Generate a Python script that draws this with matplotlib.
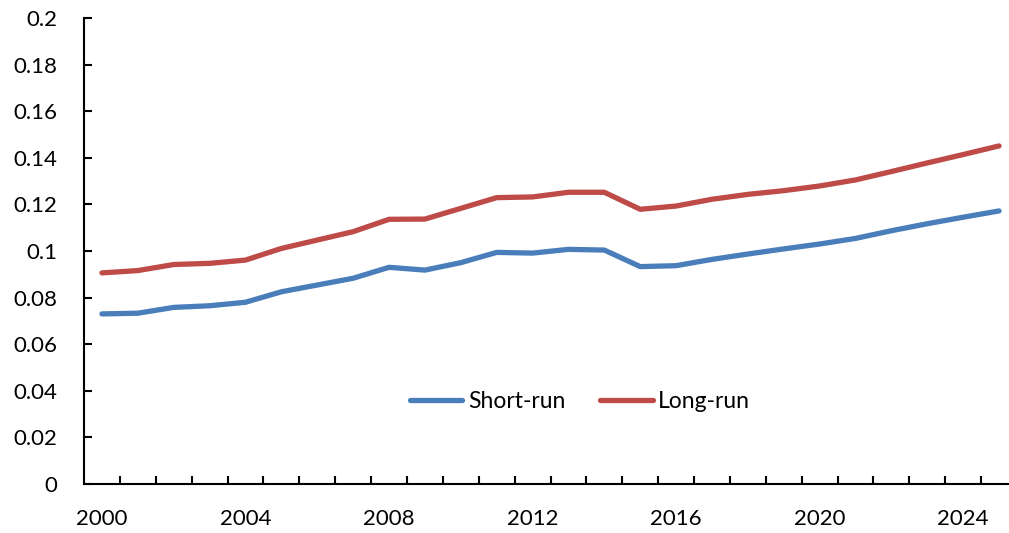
import numpy as np
import matplotlib
matplotlib.use("Agg")
import matplotlib.pyplot as plt

years = list(range(2000, 2026))
short_run = [0.0730, 0.0733, 0.0758, 0.0765, 0.0780, 0.0825, 0.0854, 0.0883, 0.0930, 0.0918,
             0.0950, 0.0994, 0.0991, 0.1007, 0.1004, 0.0933, 0.0937, 0.0964, 0.0987, 0.1009,
             0.1030, 0.1054, 0.1087, 0.1117, 0.1145, 0.1172]
long_run = [0.0906, 0.0916, 0.0942, 0.0947, 0.0961, 0.1011, 0.1047, 0.1083, 0.1136, 0.1137,
            0.1183, 0.1229, 0.1232, 0.1252, 0.1252, 0.1179, 0.1193, 0.1222, 0.1243, 0.1259,
            0.1279, 0.1305, 0.1341, 0.1378, 0.1414, 0.1451]
labels = ["Short-run", "Long-run"]
yticks = [0, 0.02, 0.04, 0.06, 0.08, 0.1, 0.12, 0.14, 0.16, 0.18, 0.2]

plt.rcParams['font.family'] = ['Lato', 'DejaVu Sans']
W, H = 1009, 533
fig = plt.figure(figsize=(W / 100, H / 100), dpi=100)
ax = fig.add_axes([84 / W, 49 / H, 933 / W, 466 / H])

ax.plot(years, short_run, color='#4A7EBB', lw=3.8, solid_capstyle='round', label=labels[0])
ax.plot(years, long_run, color='#BE4B48', lw=3.8, solid_capstyle='round', label=labels[1])

ax.set_xlim(1999.5, 2025.5)
ax.set_ylim(0, 0.2)
ax.set_yticks(yticks)
ax.set_yticklabels([f"{v:g}" for v in yticks])
ax.set_xticks(years[::4])
ax.set_xticks([y + 0.5 for y in years[:-1]], minor=True)

for s in ['top', 'right']:
    ax.spines[s].set_visible(False)
for s in ['left', 'bottom']:
    ax.spines[s].set_linewidth(1.5)

ax.tick_params(axis='y', direction='in', length=6, width=1.5, labelsize=16, pad=19)
ax.tick_params(axis='x', which='major', length=0, labelsize=16, pad=18)
ax.tick_params(axis='x', which='minor', direction='in', length=6, width=1.5)

fig.legend(loc='center', bbox_to_anchor=(580 / W, 1 - 402 / H), ncol=2, frameon=False,
           fontsize=16.5, handlelength=2.3, handletextpad=0.25, columnspacing=1.5)

fig.savefig("out.png", dpi=100)
